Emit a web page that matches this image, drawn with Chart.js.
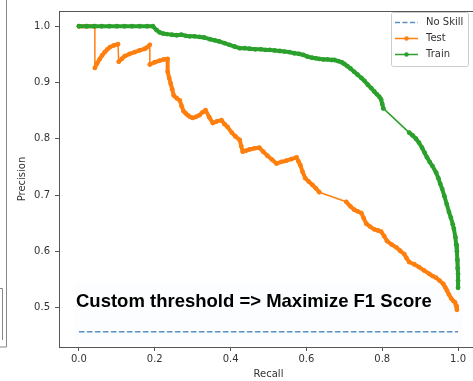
<!DOCTYPE html>
<html>
<head>
<meta charset="utf-8">
<script src="https://cdn.jsdelivr.net/npm/chart.js@4.4.1/dist/chart.umd.min.js"></script>
<style>
  html, body { margin: 0; padding: 0; background: #fff; overflow: hidden; }
  #frame { width: 473px; height: 381px; overflow: hidden; position: relative; }
  #wrap { width: 490px; height: 381px; position: absolute; left: 0; top: 0; }
</style>
</head>
<body>
<div id="frame"><div id="wrap"><canvas id="prChart"></canvas></div></div>
<script>
// Données (recall / precision)
const noSkillRecall = [0, 1];
const noSkillPrecision = [0.457, 0.457];

const testRecall = [
  0.000, 0.020, 0.042, 0.042, 0.048, 0.055, 0.061, 0.068, 0.075, 0.082,
  0.092, 0.103, 0.105, 0.113, 0.121, 0.134, 0.147, 0.160, 0.174, 0.181,
  0.187, 0.187, 0.200, 0.213, 0.224, 0.234, 0.234, 0.238, 0.242, 0.246,
  0.250, 0.258, 0.266, 0.271, 0.276, 0.282, 0.287, 0.293, 0.300, 0.309,
  0.318, 0.326, 0.334, 0.344, 0.353, 0.364, 0.376, 0.384, 0.392, 0.403,
  0.413, 0.424, 0.428, 0.432, 0.441, 0.450, 0.463, 0.476, 0.486, 0.497,
  0.509, 0.521, 0.534, 0.547, 0.560, 0.574, 0.579, 0.584, 0.590, 0.597,
  0.606, 0.616, 0.625, 0.634, 0.705, 0.716, 0.726, 0.735, 0.745, 0.751,
  0.758, 0.768, 0.779, 0.789, 0.797, 0.805, 0.813, 0.825, 0.837, 0.847,
  0.858, 0.864, 0.871, 0.884, 0.897, 0.910, 0.924, 0.933, 0.942, 0.951,
  0.961, 0.966, 0.971, 0.976, 0.982, 0.987, 0.992, 0.995, 0.997
];
const testPrecision = [
  1.000, 1.000, 1.000, 0.926, 0.934, 0.942, 0.948, 0.954, 0.959, 0.963,
  0.966, 0.968, 0.937, 0.942, 0.947, 0.951, 0.954, 0.957, 0.960, 0.963,
  0.967, 0.932, 0.936, 0.939, 0.941, 0.942, 0.919, 0.908, 0.898, 0.888,
  0.877, 0.872, 0.868, 0.858, 0.849, 0.845, 0.842, 0.839, 0.837, 0.839,
  0.842, 0.847, 0.851, 0.838, 0.828, 0.831, 0.833, 0.826, 0.821, 0.811,
  0.804, 0.798, 0.787, 0.777, 0.779, 0.781, 0.783, 0.784, 0.777, 0.770,
  0.763, 0.756, 0.759, 0.761, 0.764, 0.767, 0.760, 0.753, 0.741, 0.730,
  0.724, 0.718, 0.712, 0.705, 0.688, 0.680, 0.674, 0.671, 0.668, 0.659,
  0.649, 0.644, 0.639, 0.637, 0.635, 0.627, 0.618, 0.612, 0.607, 0.601,
  0.595, 0.588, 0.581, 0.577, 0.572, 0.566, 0.560, 0.556, 0.553, 0.548,
  0.542, 0.536, 0.530, 0.523, 0.516, 0.512, 0.509, 0.503, 0.496
];

const trainRecall = [
  0.000, 0.020, 0.040, 0.060, 0.080, 0.100, 0.120, 0.140, 0.160, 0.180,
  0.195, 0.205, 0.213, 0.222, 0.232, 0.245, 0.258, 0.270, 0.282, 0.292,
  0.305, 0.318, 0.330, 0.345, 0.358, 0.370, 0.384, 0.397, 0.410, 0.424,
  0.437, 0.450, 0.465, 0.480, 0.492, 0.503, 0.516, 0.530, 0.542, 0.555,
  0.568, 0.580, 0.592, 0.603, 0.615, 0.625, 0.634, 0.645, 0.656, 0.667,
  0.674, 0.684, 0.693, 0.700, 0.708, 0.716, 0.726, 0.735, 0.745, 0.753,
  0.762, 0.771, 0.779, 0.786, 0.792, 0.797, 0.800, 0.803, 0.871, 0.880,
  0.889, 0.897, 0.905, 0.912, 0.918, 0.925, 0.932, 0.942, 0.948, 0.953,
  0.958, 0.964, 0.970, 0.976, 0.981, 0.986, 0.989, 0.993, 0.995, 0.997,
  0.998, 0.999, 1.000, 1.000, 1.000
];
const trainPrecision = [
  1.000, 1.000, 1.000, 1.000, 1.000, 1.000, 1.000, 1.000, 1.000, 1.000,
  1.000, 0.993, 0.989, 0.987, 0.986, 0.985, 0.984, 0.985, 0.983, 0.982,
  0.982, 0.981, 0.980, 0.977, 0.975, 0.973, 0.970, 0.967, 0.964, 0.961,
  0.961, 0.960, 0.959, 0.959, 0.958, 0.958, 0.957, 0.956, 0.955, 0.954,
  0.952, 0.951, 0.949, 0.946, 0.944, 0.943, 0.942, 0.941, 0.941, 0.940,
  0.940, 0.938, 0.936, 0.933, 0.929, 0.925, 0.919, 0.914, 0.908, 0.903,
  0.896, 0.890, 0.884, 0.879, 0.875, 0.870, 0.862, 0.854, 0.811, 0.806,
  0.800, 0.793, 0.784, 0.775, 0.767, 0.759, 0.752, 0.740, 0.730, 0.720,
  0.711, 0.698, 0.684, 0.670, 0.660, 0.648, 0.640, 0.625, 0.612, 0.600,
  0.585, 0.570, 0.560, 0.548, 0.535
];

const xTicks = [0.0, 0.2, 0.4, 0.6, 0.8, 1.0];
const yTicks = [0.5, 0.6, 0.7, 0.8, 0.9, 1.0];
const annotation = "Custom threshold => Maximize F1 Score";

const BLUE = "#5b8ec2", ORANGE = "#ff7f0e", GREEN = "#2ca02c";
const TICK_FONT = { family: "DejaVu Sans", size: 10 };

function toPoints(xs, ys) {
  return xs.map((x, i) => ({ x: x, y: ys[i] }));
}

// les marqueurs très serrés de l'original donnent un trait épais,
// les longs sauts sans marqueurs restent fins
function denseWidth(c) {
  const dx = c.p1.x - c.p0.x, dy = c.p1.y - c.p0.y;
  return Math.hypot(dx, dy) < 16 ? 4 : 1.5;
}

// Cadre, légende, annotation et libellés d'axes
const decorPlugin = {
  id: "decor",
  beforeDatasetsDraw(chart) {
    const ctx = chart.ctx;
    ctx.save();
    ctx.fillStyle = "rgba(232,242,250,0.18)";
    ctx.fillRect(75, 283, 388, 62);
    ctx.restore();
  },
  afterDraw(chart) {
    const ctx = chart.ctx;
    const a = chart.chartArea;
    ctx.save();
    // cadre complet
    ctx.strokeStyle = "#555";
    ctx.lineWidth = 1;
    ctx.strokeRect(Math.round(a.left) + 0.5, Math.round(a.top) + 0.5,
      Math.round(a.right - a.left), Math.round(a.bottom - a.top));

    // bord de la figure voisine à gauche
    ctx.strokeStyle = "#888";
    ctx.beginPath();
    ctx.moveTo(6.5, 0); ctx.lineTo(6.5, 347);
    ctx.lineTo(0, 347);
    ctx.moveTo(0, 288.5); ctx.lineTo(2.5, 288.5); ctx.lineTo(2.5, 340);
    ctx.stroke();

    // libellés d'axes
    ctx.fillStyle = "#333";
    ctx.font = "10px 'DejaVu Sans'";
    ctx.textAlign = "center";
    ctx.textBaseline = "middle";
    ctx.fillText("Recall", (a.left + a.right) / 2, 374);
    ctx.save();
    ctx.translate(22, (a.top + a.bottom) / 2);
    ctx.rotate(-Math.PI / 2);
    ctx.fillText("Precision", 0, 0);
    ctx.restore();

    // annotation
    ctx.fillStyle = "#000";
    ctx.font = "bold 18.5px 'Liberation Sans'";
    ctx.textAlign = "left";
    ctx.textBaseline = "alphabetic";
    ctx.fillText(annotation, 76, 307);

    // légende
    const lx = 391.5, ly = 12.5, lw = 77, lh = 54;
    ctx.fillStyle = "rgba(255,255,255,0.85)";
    ctx.strokeStyle = "#ccc";
    ctx.beginPath();
    ctx.roundRect(lx, ly, lw, lh, 2);
    ctx.fill();
    ctx.stroke();
    const rows = [
      { label: "No Skill", color: BLUE, dash: [5, 2.5], marker: false },
      { label: "Test", color: ORANGE, dash: [], marker: true },
      { label: "Train", color: GREEN, dash: [], marker: true }
    ];
    rows.forEach((r, i) => {
      const y = 22.5 + i * 16;
      ctx.strokeStyle = r.color;
      ctx.lineWidth = 1.5;
      ctx.setLineDash(r.dash);
      ctx.beginPath();
      ctx.moveTo(395, y); ctx.lineTo(418, y);
      ctx.stroke();
      ctx.setLineDash([]);
      if (r.marker) {
        ctx.fillStyle = r.color;
        ctx.beginPath();
        ctx.arc(406.5, y, 2.2, 0, Math.PI * 2);
        ctx.fill();
      }
      ctx.fillStyle = "#333";
      ctx.font = "10px 'DejaVu Sans'";
      ctx.textBaseline = "middle";
      ctx.fillText(r.label, 426, y);
    });
    ctx.restore();
  }
};

const ctx = document.getElementById("prChart").getContext("2d");
const prChart = new Chart(ctx, {
  type: "scatter",
  data: {
    datasets: [
      {
        label: "No Skill",
        data: toPoints(noSkillRecall, noSkillPrecision),
        showLine: true,
        borderColor: BLUE,
        borderWidth: 1.5,
        borderDash: [5.5, 2.5],
        pointRadius: 0,
        order: 2
      },
      {
        label: "Test",
        data: toPoints(testRecall, testPrecision),
        showLine: true,
        borderColor: ORANGE,
        backgroundColor: ORANGE,
        borderWidth: 1.5,
        borderCapStyle: "round",
        borderJoinStyle: "round",
        segment: { borderWidth: denseWidth },
        pointRadius: 2.4,
        pointBorderWidth: 0,
        order: 1
      },
      {
        label: "Train",
        data: toPoints(trainRecall, trainPrecision),
        showLine: true,
        borderColor: GREEN,
        backgroundColor: GREEN,
        borderWidth: 1.5,
        borderCapStyle: "round",
        borderJoinStyle: "round",
        segment: { borderWidth: denseWidth },
        pointRadius: 2.4,
        pointBorderWidth: 0,
        order: 0
      }
    ]
  },
  options: {
    responsive: true,
    maintainAspectRatio: false,
    animation: false,
    layout: { padding: { top: 7, right: 12, left: 0, bottom: 0 } },
    plugins: { legend: { display: false }, tooltip: { enabled: false } },
    scales: {
      x: {
        type: "linear",
        min: -0.0526,
        max: 1.0526,
        afterFit: (s) => { s.height = 34; },
        afterBuildTicks: (s) => { s.ticks = xTicks.map(v => ({ value: v })); },
        ticks: {
          font: TICK_FONT, color: "#333", padding: 2,
          maxRotation: 0, autoSkip: false,
          callback: (v) => Number(v).toFixed(1)
        },
        grid: { drawOnChartArea: false, tickLength: 4, color: "#555" },
        border: { color: "#555" }
      },
      y: {
        type: "linear",
        min: 0.4299,
        max: 1.0271,
        afterFit: (s) => { s.width = 59; },
        afterBuildTicks: (s) => { s.ticks = yTicks.map(v => ({ value: v })); },
        ticks: {
          font: TICK_FONT, color: "#333", padding: 5, autoSkip: false,
          callback: (v) => Number(v).toFixed(1)
        },
        grid: { drawOnChartArea: false, tickLength: 4, color: "#555" },
        border: { color: "#555" }
      }
    }
  },
  plugins: [decorPlugin]
});
</script>
</body>
</html>
